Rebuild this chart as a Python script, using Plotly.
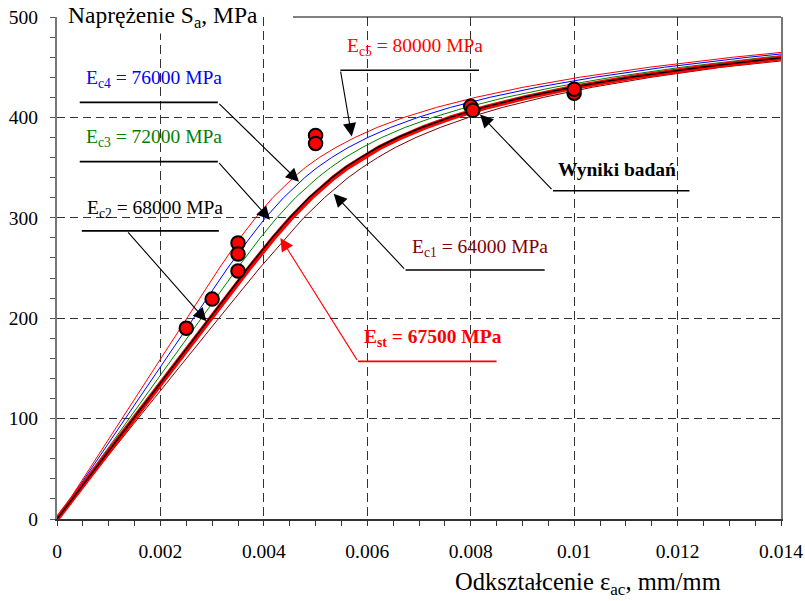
import plotly.graph_objects as go

# Stress levels (MPa) shared by all computed stress-strain curves
stress_mpa = [0, 100, 200, 250, 280, 300, 320, 340, 350, 360, 370, 380,
              390, 400, 410, 420, 430, 440, 450, 460, 470]

# Strain (mm/mm) reached at each stress level for every modulus
strain_ec5 = [0, 0.00125, 0.00250, 0.00314, 0.00354, 0.00384, 0.00417, 0.00457, 0.00480, 0.00507, 0.00539,
              0.00576, 0.00619, 0.00671, 0.00734, 0.00810, 0.00901, 0.01011, 0.01146, 0.01308, 0.01504]
strain_ec4 = [0, 0.00132, 0.00263, 0.00330, 0.00373, 0.00403, 0.00438, 0.00479, 0.00503, 0.00531, 0.00563,
              0.00601, 0.00645, 0.00698, 0.00761, 0.00837, 0.00929, 0.01040, 0.01175, 0.01338, 0.01535]
strain_ec3 = [0, 0.00139, 0.00278, 0.00349, 0.00393, 0.00425, 0.00461, 0.00504, 0.00529, 0.00557, 0.00590,
              0.00628, 0.00673, 0.00727, 0.00791, 0.00868, 0.00961, 0.01073, 0.01208, 0.01372, 0.01570]
strain_ec2 = [0, 0.00147, 0.00294, 0.00369, 0.00416, 0.00450, 0.00487, 0.00532, 0.00557, 0.00587, 0.00620,
              0.00659, 0.00705, 0.00760, 0.00824, 0.00902, 0.00996, 0.01109, 0.01245, 0.01410, 0.01608]
strain_est = [0, 0.00148, 0.00296, 0.00372, 0.00419, 0.00453, 0.00491, 0.00535, 0.00561, 0.00591, 0.00624,
              0.00664, 0.00710, 0.00764, 0.00829, 0.00907, 0.01000, 0.01113, 0.01250, 0.01415, 0.01613]
strain_ec1 = [0, 0.00156, 0.00313, 0.00392, 0.00442, 0.00477, 0.00517, 0.00563, 0.00590, 0.00620, 0.00654,
              0.00694, 0.00741, 0.00796, 0.00862, 0.00941, 0.01035, 0.01149, 0.01286, 0.01452, 0.01651]

# Test results (Wyniki badań)
test_strain = [0.0025, 0.003, 0.0035, 0.0035, 0.0035, 0.005, 0.005, 0.008, 0.00804, 0.01, 0.01]
test_stress = [190, 219, 275, 264, 247, 382, 374, 411, 407, 424, 428]

x_ticks = [0, 0.002, 0.004, 0.006, 0.008, 0.01, 0.012, 0.014]
x_tick_text = ["0", "0.002", "0.004", "0.006", "0.008", "0.01", "0.012", "0.014"]
y_ticks = [0, 100, 200, 300, 400, 500]

SERIF = "Liberation Serif, Times New Roman, serif"
RED, BLUE, GREEN, MAROON = "#ff0000", "#0000ff", "#008000", "#800000"

fig = go.Figure()


def curve(strain, color, width):
    fig.add_trace(go.Scatter(x=strain, y=stress_mpa, mode="lines",
                             line=dict(color=color, width=width),
                             hoverinfo="skip", showlegend=False))


curve(strain_ec5, RED, 1)
curve(strain_ec4, BLUE, 1)
curve(strain_ec3, GREEN, 1)
curve(strain_ec1, MAROON, 1)
curve(strain_est, RED, 5)
curve(strain_ec2, "#000000", 1.5)

fig.add_trace(go.Scatter(
    x=test_strain, y=test_stress, mode="markers",
    marker=dict(size=13.5, color=RED, line=dict(color="#000000", width=2)),
    hoverinfo="skip", showlegend=False))

# Leader lines: horizontal rule under each label, then an arrow to the curve
leaders = [
    # x0, x1, y, arrow start x, tip x, tip y, colour
    (0.00548, 0.00816, 447, 0.00548, 0.00570, 381, "#000000"),
    (0.00044, 0.00311, 415, 0.00311, 0.00468, 336, "#000000"),
    (0.00044, 0.00311, 356, 0.00311, 0.00412, 298, "#000000"),
    (0.00048, 0.00313, 287, 0.00135, 0.00289, 197, "#000000"),
    (0.00674, 0.00943, 248, 0.00674, 0.00535, 324, "#000000"),
    (0.00582, 0.00850, 157, 0.00582, 0.00432, 280, RED),
    (0.00959, 0.01223, 327, 0.00959, 0.00818, 403, "#000000"),
]
shapes = []
annotations = []
for x0, x1, yy, sx, tx, ty, col in leaders:
    shapes.append(dict(type="line", xref="x", yref="y", x0=x0, x1=x1, y0=yy, y1=yy,
                       line=dict(color=col, width=1.6)))
    annotations.append(dict(x=tx, y=ty, ax=sx, ay=yy, xref="x", yref="y",
                            axref="x", ayref="y", text="", showarrow=True,
                            arrowhead=2, arrowsize=2.4, arrowwidth=1.1,
                            arrowcolor=col, standoff=0))

labels = [
    (0.00692, 470, "E<sub>c5</sub> = 80000 MPa", RED, False),
    (0.00187, 438, "E<sub>c4</sub> = 76000 MPa", BLUE, False),
    (0.00187, 379, "E<sub>c3</sub> = 72000 MPa", GREEN, False),
    (0.00190, 309, "E<sub>c2</sub> = 68000 MPa", "#000000", False),
    (0.00817, 270, "E<sub>c1</sub> = 64000 MPa", MAROON, False),
    (0.00727, 180, "E<sub>st</sub> = 67500 MPa", RED, True),
    (0.01082, 348, "Wyniki badań", "#000000", True),
]
for lx, ly, txt, col, bold in labels:
    annotations.append(dict(x=lx, y=ly, xref="x", yref="y", showarrow=False,
                            text=f"<b>{txt}</b>" if bold else txt,
                            font=dict(family=SERIF, size=19.5, color=col)))

# Axis titles
annotations.append(dict(x=0.013, y=1.0, xref="paper", yref="paper", xanchor="left",
                        yanchor="middle", showarrow=False, bgcolor="#ffffff",
                        text="Naprężenie S<sub>a</sub>, MPa",
                        font=dict(family=SERIF, size=23.5, color="#000000")))
annotations.append(dict(x=0.92, y=-0.128, xref="paper", yref="paper", xanchor="right",
                        yanchor="middle", showarrow=False,
                        text="Odkształcenie ε<sub>ac</sub>, mm/mm",
                        font=dict(family=SERIF, size=24.5, color="#000000")))

# Top frame line to the right of the title
shapes.append(dict(type="line", xref="paper", yref="paper", x0=0.326, x1=1, y0=1, y1=1,
                   line=dict(color="#000000", width=1)))

fig.update_layout(
    width=805, height=601,
    margin=dict(l=57, r=24, t=17, b=82, autoexpand=False),
    paper_bgcolor="#ffffff", plot_bgcolor="#ffffff",
    shapes=shapes, annotations=annotations,
    font=dict(family=SERIF, size=19.5, color="#000000"),
    xaxis=dict(range=[0, 0.014], tickvals=x_ticks, ticktext=x_tick_text,
               automargin=False,
               showgrid=True, gridcolor="#333333", griddash="9px,5px", gridwidth=1,
               zeroline=False, showline=True, linecolor="#333333", linewidth=2,
               ticks="outside", ticklen=5, tickcolor="#333333", ticklabelstandoff=9,
               minor=dict(dtick=0.0005, ticks="outside", ticklen=5, tickcolor="#333333",
                          showgrid=False),
               fixedrange=True),
    yaxis=dict(range=[0, 500], tickvals=y_ticks, automargin=False,
               showgrid=True, gridcolor="#333333", griddash="8px,5px", gridwidth=1,
               zeroline=False, showline=True, linecolor="#777777", linewidth=2,
               mirror=True,
               ticks="outside", ticklen=5, tickcolor="#555555", ticklabelstandoff=8,
               minor=dict(dtick=20, ticks="outside", ticklen=5, tickcolor="#555555",
                          showgrid=False),
               fixedrange=True),
)

fig.write_html("out.html")
